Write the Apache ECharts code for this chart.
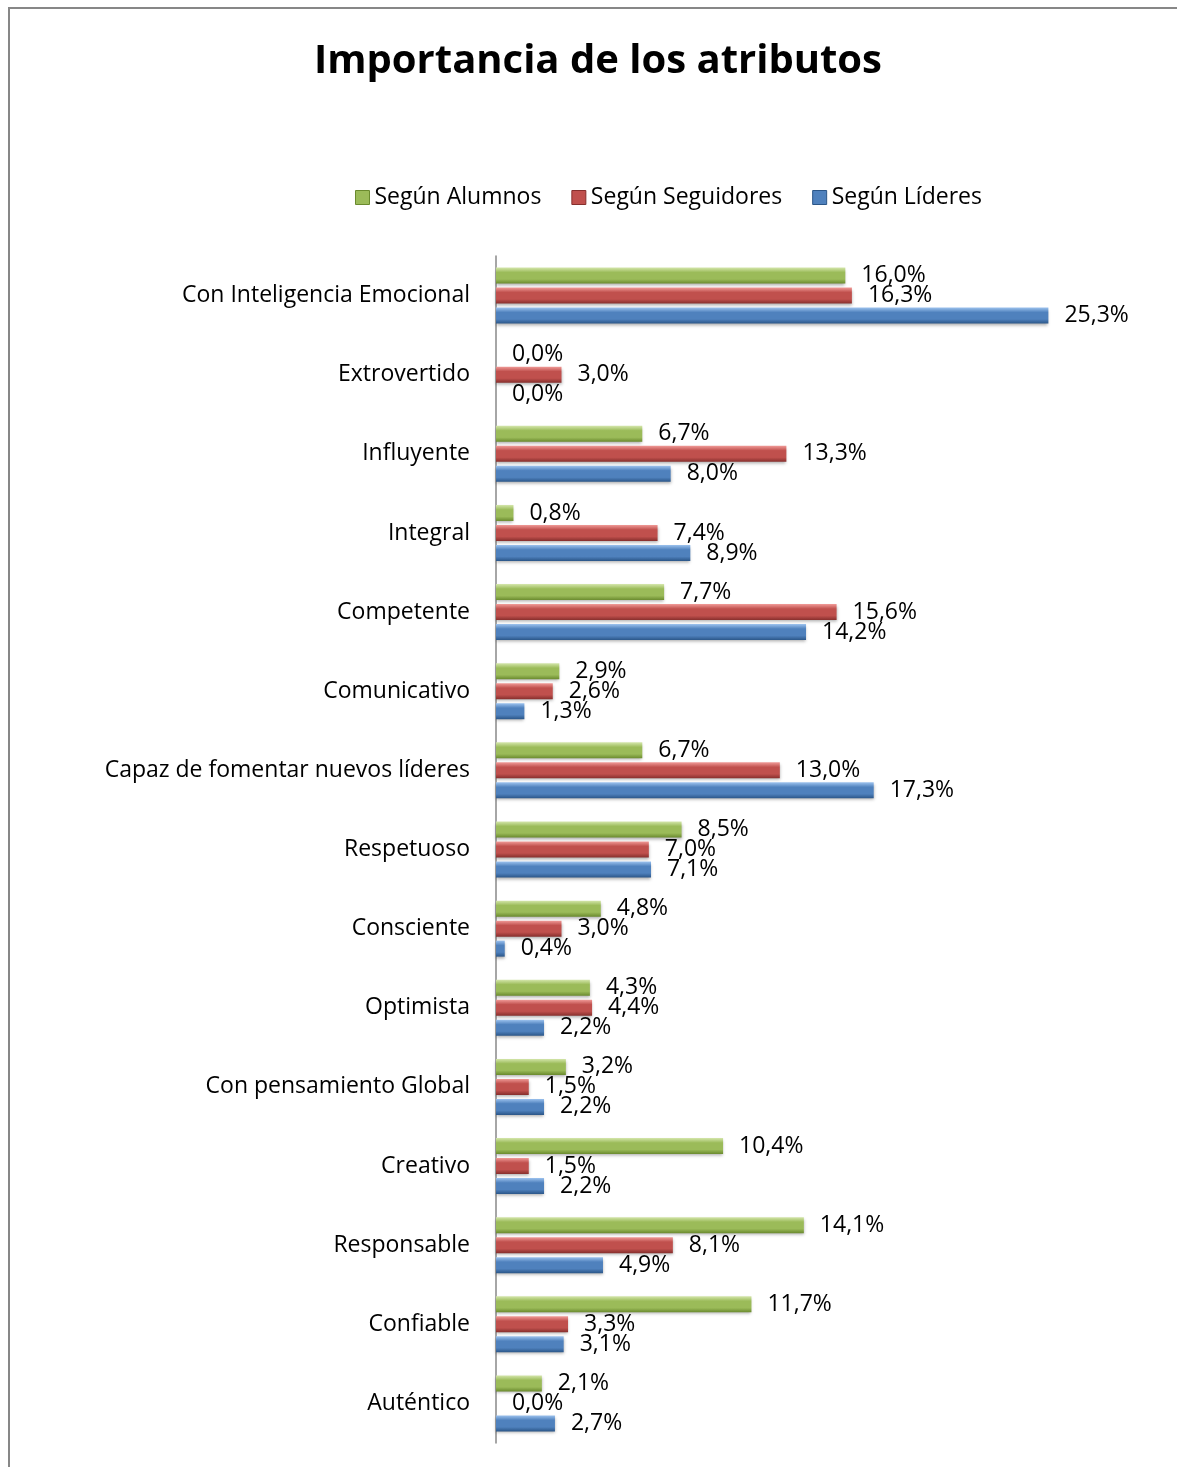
<!DOCTYPE html>
<html>
<head>
<meta charset="utf-8">
<script src="https://cdn.jsdelivr.net/npm/echarts@6/dist/echarts.min.js"></script>
<style>
  html, body { margin: 0; padding: 0; background: #fff; }
  #chart { width: 1177px; height: 1467px; }
</style>
</head>
<body>
<div id="chart"></div>
<script>
  const categories = [
    "Con Inteligencia Emocional",
    "Extrovertido",
    "Influyente",
    "Integral",
    "Competente",
    "Comunicativo",
    "Capaz de fomentar nuevos líderes",
    "Respetuoso",
    "Consciente",
    "Optimista",
    "Con pensamiento Global",
    "Creativo",
    "Responsable",
    "Confiable",
    "Auténtico",
  ];
  const alumnos = [16.0, 0.0, 6.7, 0.8, 7.7, 2.9, 6.7, 8.5, 4.8, 4.3, 3.2, 10.4, 14.1, 11.7, 2.1];
  const seguidores = [16.3, 3.0, 13.3, 7.4, 15.6, 2.6, 13.0, 7.0, 3.0, 4.4, 1.5, 1.5, 8.1, 3.3, 0.0];
  const lideres = [25.3, 0.0, 8.0, 8.9, 14.2, 1.3, 17.3, 7.1, 0.4, 2.2, 2.2, 2.2, 4.9, 3.1, 2.7];

  const font = "'Open Sans', 'Noto Sans', sans-serif";

  // barra con efecto biselado
  const bevel = (light, mid, dark) =>
    new echarts.graphic.LinearGradient(0, 0, 0, 1, [
      { offset: 0, color: light },
      { offset: 0.3, color: mid },
      { offset: 0.72, color: mid },
      { offset: 1, color: dark },
    ]);

  const makeSeries = (name, values, light, mid, dark) => ({
    name: name,
    type: "bar",
    barWidth: 16,
    barGap: "25%",
    data: values,
    itemStyle: {
      color: bevel(light, mid, dark),
      shadowColor: "rgba(0,0,0,0.3)",
      shadowBlur: 3,
      shadowOffsetY: 2,
    },
    label: {
      show: true,
      position: "right",
      distance: 16,
      fontFamily: font,
      fontSize: 23,
      color: "#000",
      formatter: (p) => p.value.toFixed(1).replace(".", ",") + "%",
    },
  });

  const legendItem = (name, mid, dark) => ({
    name: name,
    icon: "rect",
    itemStyle: { color: mid, borderColor: dark, borderWidth: 1, shadowBlur: 0, shadowOffsetY: 0 },
  });

  const chart = echarts.init(document.getElementById("chart"));
  chart.setOption({
    animation: false,
    graphic: [
      {
        type: "polyline",
        shape: { points: [[9, 1467], [9, 8], [1177, 8]] },
        style: { stroke: "#878787", lineWidth: 2, fill: null },
      },
    ],
    title: {
      text: "Importancia de los atributos",
      left: 593,
      textAlign: "center",
      top: 37,
      textStyle: { fontFamily: font, fontSize: 40, fontWeight: "bold", color: "#000" },
    },
    legend: {
      left: 350,
      top: 181,
      itemWidth: 14,
      itemHeight: 14,
      itemGap: 30,
      textStyle: { fontFamily: font, fontSize: 23, color: "#000" },
      data: [
        legendItem("Según Alumnos", "#9bbb59", "#6a8a2e"),
        legendItem("Según Seguidores", "#c0504d", "#862f2d"),
        legendItem("Según Líderes", "#4f81bd", "#2b5688"),
      ],
    },
    grid: {
      left: 496,
      top: 256,
      width: 655,
      height: 1187,
    },
    xAxis: {
      type: "value",
      min: 0,
      max: 30,
      show: false,
    },
    yAxis: {
      type: "category",
      inverse: true,
      data: categories,
      axisLine: { lineStyle: { color: "#898989", width: 1.5 } },
      axisTick: { show: false },
      axisLabel: { fontFamily: font, fontSize: 23, color: "#000", margin: 26 },
    },
    series: [
      makeSeries("Según Alumnos", alumnos, "#d4e6ab", "#9bbb59", "#6a8a2e"),
      makeSeries("Según Seguidores", seguidores, "#f09a97", "#c0504d", "#862f2d"),
      makeSeries("Según Líderes", lideres, "#9cc2ee", "#4f81bd", "#2b5688"),
    ],
  });
</script>
</body>
</html>
